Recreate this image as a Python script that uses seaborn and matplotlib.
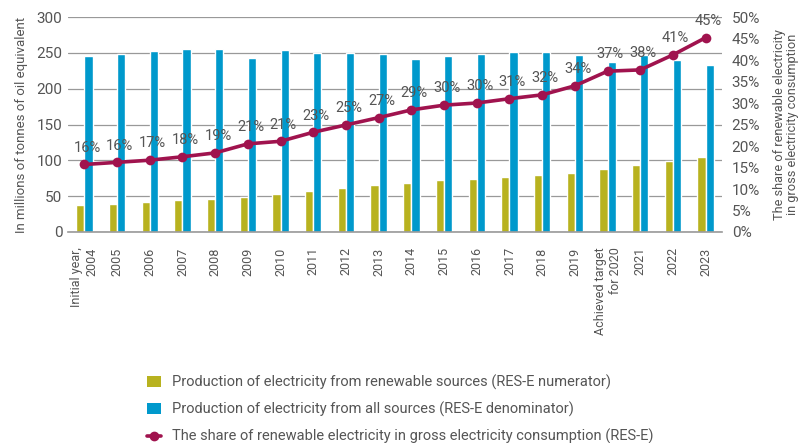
import numpy as np
import pandas as pd
import seaborn as sns
import matplotlib.pyplot as plt
from matplotlib.patches import Patch
from matplotlib.lines import Line2D

categories = ["Initial year,\n2004", "2005", "2006", "2007", "2008", "2009", "2010", "2011",
              "2012", "2013", "2014", "2015", "2016", "2017", "2018", "2019",
              "Achieved target\nfor 2020", "2021", "2022", "2023"]
renewable = [38, 39.5, 42, 44, 46, 49, 53, 57, 61.5, 65, 68.5, 72, 74, 77, 79.5, 83, 88, 93, 98.5, 104.5]
total = [246, 249, 252.5, 255, 256, 243, 254, 250, 250, 248, 242, 246, 249, 251, 251, 247, 237.5, 247, 240, 232.5]
share = [15.7, 16.2, 16.7, 17.5, 18.4, 20.5, 21.1, 23.2, 24.9, 26.6, 28.4, 29.5, 30.0, 31.0, 31.9, 34.0, 37.4, 37.7, 41.2, 45.2]
share_labels = ["16%", "16%", "17%", "18%", "19%", "21%", "21%", "23%", "25%", "27%",
                "29%", "30%", "30%", "31%", "32%", "34%", "37%", "38%", "41%", "45%"]

s_ren = "Production of electricity from renewable sources (RES-E numerator)"
s_tot = "Production of electricity from all sources (RES-E denominator)"
s_line = "The share of renewable electricity in gross electricity consumption (RES-E)"

c_olive = "#b8b21f"
c_blue = "#0099cc"
c_line = "#a0134e"
c_text = "#555555"

sns.set_style("white")
plt.rcParams['font.family'] = ['Roboto', 'DejaVu Sans']

df = pd.DataFrame({
    "cat": categories * 2,
    "value": renewable + total,
    "series": [s_ren] * len(categories) + [s_tot] * len(categories),
})

fig = plt.figure(figsize=(8.06, 4.43), dpi=100)
ax = fig.add_axes([0.0844, 0.4763, 0.8114, 0.4853])

sns.barplot(data=df, x="cat", y="value", hue="series", order=categories,
            hue_order=[s_ren, s_tot], palette=[c_olive, c_blue], width=0.5,
            gap=0, ax=ax, legend=False, saturation=1)

n = len(categories)
ax.set_xlim(-0.5, n - 0.5)
ax.set_ylim(0, 300)
ax.set_yticks(np.arange(0, 301, 50))
ax.yaxis.grid(True, color="#999999", linewidth=0.9)
ax.set_axisbelow(True)
for sp in ["top", "right", "left"]:
    ax.spines[sp].set_visible(False)
ax.spines["bottom"].set_color("#999999")
ax.spines["bottom"].set_linewidth(1.2)
ax.set_xlabel("")
ax.set_ylabel("In millions of tonnes of oil equivalent", fontsize=9.5, color=c_text, labelpad=6)
ax.tick_params(axis="y", labelsize=11, colors=c_text, length=0, pad=4)
ax.set_xticks(range(n))
ax.set_xticklabels(categories, rotation=90, fontsize=9, color=c_text, ha="center", va="top",
                   multialignment="right")
ax.tick_params(axis="x", length=0, pad=11)
ax.set_xticks(np.arange(-0.5, n, 1), minor=True)
ax.tick_params(axis="x", which="minor", length=5, color="#999999", direction="out", width=1)

ax2 = ax.twinx()
x_pos = np.arange(n)
sns.lineplot(x=x_pos, y=share, ax=ax2, color=c_line, linewidth=2.6, marker="o",
             markersize=7, markeredgewidth=0, legend=False)
ax2.set_ylim(0, 50)
ax2.set_yticks(np.arange(0, 51, 5))
ax2.set_yticklabels([f"{v}%" for v in range(0, 51, 5)])
ax2.tick_params(axis="y", labelsize=11, colors=c_text, length=0, pad=7)
for sp in ["top", "right", "left", "bottom"]:
    ax2.spines[sp].set_visible(False)
ax2.set_ylabel("The share of renewable electricity\nin gross electricity consumption",
               fontsize=9.2, color=c_text, labelpad=9, linespacing=1.0)
for xi, yi, lab in zip(x_pos, share, share_labels):
    ax2.annotate(lab, (xi, yi), xytext=(2, 7), textcoords="offset points",
                 ha="center", va="bottom", fontsize=10.5, color=c_text)

handles = [Patch(facecolor=c_olive, edgecolor="none"),
           Patch(facecolor=c_blue, edgecolor="none"),
           Line2D([0], [0], color=c_line, lw=2.6, marker="o", markersize=6)]
fig.legend(handles, [s_ren, s_tot, s_line], loc="upper left",
           bbox_to_anchor=(0.175, 0.168), frameon=False, fontsize=10.5,
           labelcolor=c_text, handlelength=1.0, handleheight=0.8, labelspacing=0.82,
           handletextpad=0.7, borderaxespad=0)

fig.savefig("out.png", dpi=100)
